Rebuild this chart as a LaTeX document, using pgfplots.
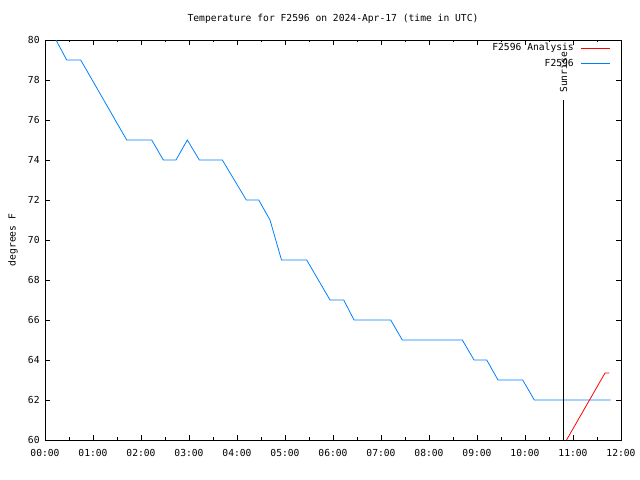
\documentclass[border=0pt]{standalone}
\usepackage{pgfplots}
\pgfplotsset{compat=1.18}
\usepackage{fontspec}
\setmainfont{DejaVu Sans Mono}
\definecolor{gblue}{RGB}{0,128,255}
\definecolor{gred}{RGB}{255,0,0}
\begin{document}
\fontsize{9.7}{11}\selectfont
\begin{tikzpicture}[x=1bp,y=1bp]
\useasboundingbox (0,0) rectangle (640,480);
\begin{axis}[
  at={(45bp,40bp)}, anchor=south west,
  scale only axis, width=576bp, height=400bp,
  xmin=0, xmax=12, ymin=60, ymax=80,
  clip=false,
  axis line style={line width=0.8pt},
  every tick/.style={black, line width=0.6pt},
  tick align=inside,
  major tick length=5bp, minor tick length=2.5bp,
  xtick={0,1,2,3,4,5,6,7,8,9,10,11,12},
  xticklabels={00:00,01:00,02:00,03:00,04:00,05:00,06:00,07:00,08:00,09:00,10:00,11:00,12:00},
  minor x tick num=1,
  ytick={60,62,64,66,68,70,72,74,76,78,80},
  /pgf/number format/assume math mode=true,
  ticklabel style={font=\fontsize{9.7}{11}\selectfont},
  xticklabel style={yshift=-6bp},
  yticklabel style={xshift=-2bp},
]
\addplot[gblue, line width=0.8pt] coordinates {
(0.229,80) (0.452,79) (0.744,79) (1.702,75) (2.223,75) (2.465,74) (2.729,74)
(2.965,75) (3.215,74) (3.694,74) (4.194,72) (4.452,72) (4.6875,71) (4.927,69)
(5.452,69) (5.9375,67) (6.223,67) (6.4375,66) (7.202,66) (7.444,65) (8.694,65)
(8.9375,64) (9.202,64) (9.4375,63) (9.952,63) (10.194,62) (11.785,62)
};
\addplot[gred, line width=0.8pt] coordinates {
(10.865,60) (11.667,63.35) (11.756,63.35)
};
\addplot[black, line width=0.8pt] coordinates {(10.80,60) (10.80,77)};
\coordinate (tr) at (rel axis cs:1,1);
\node[anchor=east, inner sep=0pt] at ([xshift=-47bp,yshift=-8bp]tr) {F2596 Analysis};
\draw[draw=gred, line width=0.8pt] ([xshift=-40bp,yshift=-8bp]tr) -- ([xshift=-11bp,yshift=-8bp]tr);
\node[anchor=east, inner sep=0pt] at ([xshift=-47bp,yshift=-23bp]tr) {F2596};
\draw[draw=gblue, line width=0.8pt] ([xshift=-40bp,yshift=-23bp]tr) -- ([xshift=-11bp,yshift=-23bp]tr);
\node[yshift=7bp, rotate=90, anchor=west, inner sep=0pt] at (axis cs:10.80,77) {Sunrise};
\node at (rel axis cs:0.5,1) [yshift=21bp] {Temperature for F2596 on 2024-Apr-17 (time in UTC)};
\node[xshift=-32bp, rotate=90] at (rel axis cs:0,0.5) {degrees F};
\end{axis}
\end{tikzpicture}
\end{document}
